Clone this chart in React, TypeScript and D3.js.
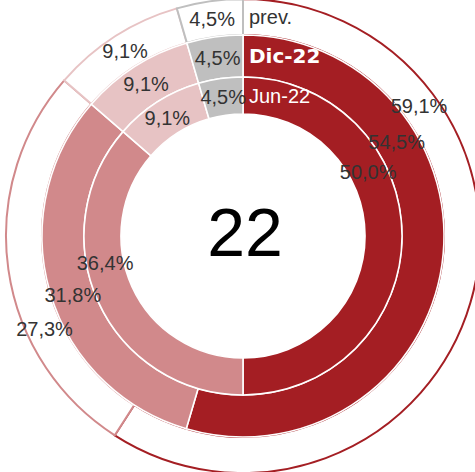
import React from 'react';
import * as d3 from 'd3';

// categories in drawing order (clockwise from 12 o'clock)
const categories = ['a', 'b', 'c', 'd'];
const colors = ['#A41E23', '#D1898B', '#E7C3C4', '#BFBFBF'];

// rings, from outside in
const ringNames = ['prev.', 'Dic-22', 'Jun-22'];
const prevValues = [59.1, 27.3, 9.1, 4.5];
const dicValues = [54.5, 31.8, 9.1, 4.5];
const junValues = [50.0, 36.4, 9.1, 4.5];
const centerLabel = '22';

// where the two big slices put their labels (degrees from top), per ring
const firstLabelDeg = [53.5, 58.6, 63];
const secondLabelDeg = [245, 251, 259];

const W = 475, H = 472;
const cx = 243, cy = 236;
const radii = [[201, 237], [159, 201], [122, 159]];

const fmt = (v: number) => v.toFixed(1).replace('.', ',') + '%';

const App = () => {
  const rings = [prevValues, dicValues, junValues];
  const pie = d3.pie<number>().sort(null).value(d => d);
  const toRad = (deg: number) => (deg * Math.PI) / 180;

  return (
    <svg width={W} height={H} style={{ position: 'absolute', left: 0, top: 0, background: '#fff' }}
      fontFamily="'Liberation Sans', Arial, sans-serif">
      <g transform={`translate(${cx},${cy})`}>
        {rings.map((vals, ri) => {
          const [r0, r1] = radii[ri];
          const arc = d3.arc<d3.PieArcDatum<number>>().innerRadius(r0).outerRadius(r1);
          const outer = ri === 0;
          return (
            <g key={ri}>
              {pie(vals).map((d, i) => (
                <path key={categories[i]} d={arc(d) || ''}
                  fill={outer ? '#fff' : colors[i]}
                  stroke={outer ? colors[i] : '#fff'}
                  strokeWidth={outer ? 2 : 1.6} />
              ))}
            </g>
          );
        })}
        {rings.map((vals, ri) => {
          const [r0, r1] = radii[ri];
          const rm = (r0 + r1) / 2;
          return pie(vals).map((d, i) => {
            let ang = (d.startAngle + d.endAngle) / 2;
            if (i === 0) ang = toRad(firstLabelDeg[ri]);
            if (i === 1) ang = toRad(secondLabelDeg[ri]);
            const x = rm * Math.sin(ang), y = -rm * Math.cos(ang);
            return (
              <text key={`${ri}-${i}`} x={x} y={y} textAnchor="middle" dominantBaseline="central"
                fontSize={20} fill="#333">{fmt(vals[i])}</text>
            );
          });
        })}
        {ringNames.map((n, ri) => {
          const rm = (radii[ri][0] + radii[ri][1]) / 2;
          return (
            <text key={n} x={6} y={-rm} dominantBaseline="central"
              fontSize={20}
              fontFamily={ri === 1 ? "'DejaVu Sans', sans-serif" : undefined}
              fontWeight={ri === 1 ? 'bold' : 'normal'}
              fill={ri === 0 ? '#333' : '#fff'}>{n}</text>
          );
        })}
        <text x={2} y={-4} textAnchor="middle" dominantBaseline="central" fontSize={68} fill="#000">{centerLabel}</text>
      </g>
    </svg>
  );
};

export default App;
